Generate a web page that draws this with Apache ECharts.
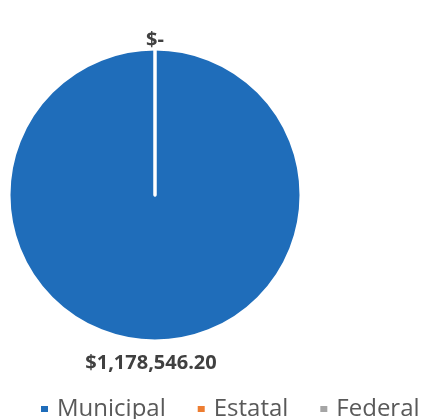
<!DOCTYPE html>
<html>
<head>
<meta charset="utf-8">
<script src="https://cdn.jsdelivr.net/npm/echarts@6/dist/echarts.min.js"></script>
<style>html,body{margin:0;padding:0;background:#fff}#c{width:426px;height:419px}</style>
</head>
<body>
<div id="c"></div>
<script>
const categories = ['Municipal', 'Estatal', 'Federal'];
const values = [1178546.20, 0, 0];
const colors = ['#1F6DBA', '#ED7D31', '#A5A5A5'];

function fmt(v) {
  if (!v) return '$-';
  return '$' + v.toLocaleString('en-US', {minimumFractionDigits: 2, maximumFractionDigits: 2});
}

const chart = echarts.init(document.getElementById('c'), null, {renderer: 'canvas'});
const data = categories.map((name, i) => {
  const item = {name: name, value: values[i], itemStyle: {color: colors[i]}};
  if (i === 0) item.labelLine = {length: 22, length2: 0, show: false};
  if (i === 1) item.labelLine = {length: 9, length2: 0, show: false};
  if (i === 2) item.label = {show: false};
  return item;
});

chart.setOption({
  animation: false,
  legend: {
    data: categories,
    left: 34,
    top: 392,
    icon: 'rect',
    itemWidth: 9,
    itemHeight: 8,
    itemGap: 30,
    textStyle: {fontFamily: 'Open Sans', fontSize: 24, color: '#595959', padding: [0, 0, 0, 3]}
  },
  series: [{
    type: 'pie',
    center: [155, 195],
    radius: 146,
    startAngle: 90,
    clockwise: true,
    avoidLabelOverlap: false,
    stillShowZeroSum: true,
    itemStyle: {borderColor: '#ffffff', borderWidth: 3},
    label: {
      show: true,
      position: 'outside',
      distanceToLabelLine: 0,
      formatter: p => fmt(p.value),
      fontFamily: 'Open Sans',
      fontWeight: 'bold',
      fontSize: 20,
      color: '#404040'
    },
    labelLayout: p => ({align: 'center', dx: p.dataIndex === 0 ? -4 : 0}),
    labelLine: {show: false},
    emphasis: {disabled: true},
    data: data
  }]
});
</script>
</body>
</html>
